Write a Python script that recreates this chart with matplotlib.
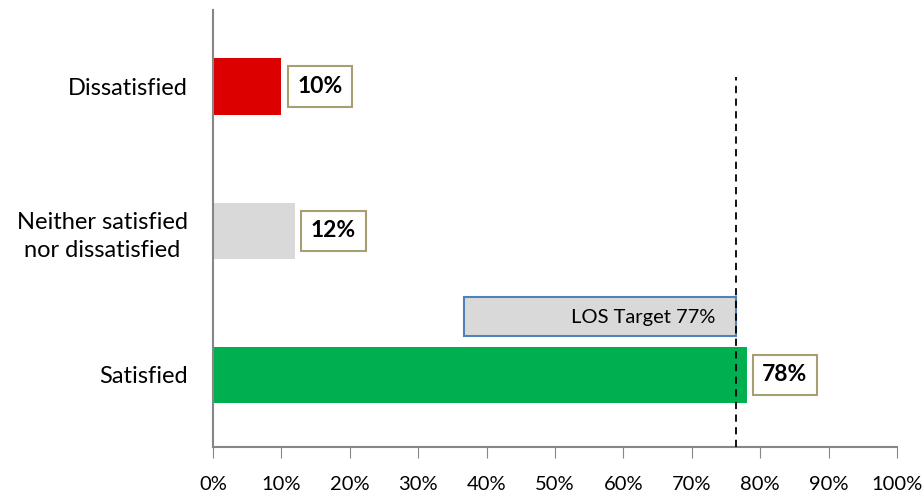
import matplotlib
matplotlib.use("Agg")
import matplotlib.pyplot as plt
from matplotlib.patches import Rectangle

categories = ["Satisfied", "Neither satisfied\nnor dissatisfied", "Dissatisfied"]
values = [78, 12, 10]
colors = ["#00b050", "#d9d9d9", "#dd0000"]
target_label = "LOS Target 77%"
target_line = 76.5
target_box_start = 36.7
xticks = list(range(0, 101, 10))
xticklabels = [f"{t}%" for t in xticks]

plt.rcParams['font.family'] = ['Lato', 'DejaVu Sans']

fig = plt.figure(figsize=(9.24, 4.97), dpi=100)
ax = fig.add_axes([213/924, 1-447/497, (897-213)/924, (447-10)/497])

ypos = list(range(len(categories)))
ax.barh(ypos, values, height=0.39, color=colors, zorder=2)

for y, v in zip(ypos, values):
    ax.text(v + 2.3, y, f"{v}%", ha="left", va="center", fontsize=16.5, fontweight="bold",
            color="black", zorder=4,
            bbox=dict(boxstyle="square,pad=0.42", facecolor="white", edgecolor="#a59f72", linewidth=1.5))

# target box
ax.add_patch(Rectangle((target_box_start, 0.27), target_line - target_box_start, 0.27,
                       facecolor="#d9d9d9", edgecolor="#4f81bd", linewidth=1.5, zorder=3))
ax.text(target_line - 3.0, 0.27 + 0.125, target_label, ha="right", va="center", fontsize=14.5, zorder=4)

ax.axvline(target_line, ymin=0, ymax=0.847, color="black", linestyle=(0, (4, 3)), linewidth=1.3, zorder=5)

ax.set_xlim(0, 100)
ax.set_ylim(-0.5, 2.53)
ax.set_xticks(xticks)
ax.set_xticklabels(xticklabels, fontsize=14.5)
ax.set_yticks(ypos)
ax.set_yticklabels(categories, fontsize=17, multialignment="center", linespacing=1.45)
ax.tick_params(axis="y", length=0, pad=18)
ax.tick_params(axis="x", direction="out", length=8, color="#868686", pad=13)
for s in ["top", "right"]:
    ax.spines[s].set_visible(False)
for s in ["left", "bottom"]:
    ax.spines[s].set_color("#868686")
    ax.spines[s].set_linewidth(1.5)

fig.savefig("out.png", dpi=100)
